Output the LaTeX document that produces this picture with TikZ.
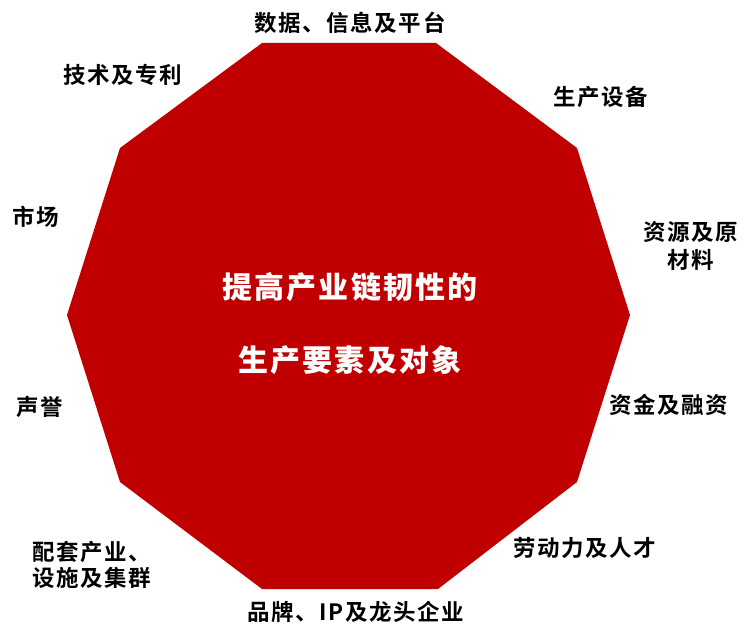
\documentclass[tikz,border=0pt]{standalone}
\usepackage{fontspec}
\setmainfont{Noto Sans CJK SC}
\newfontfamily\lblfont[BoldFont={* Bold},LetterSpace=7]{Noto Sans CJK SC}
\newfontfamily\ctrfont[LetterSpace=7]{Noto Sans CJK SC}
\definecolor{octred}{HTML}{C00000}
\tikzset{
  lbl/.style={inner sep=0pt, font=\lblfont\bfseries\fontsize{22.5}{28}\selectfont, text=black},
  ctr/.style={inner sep=0pt, font=\ctrfont\bfseries\fontsize{30}{36}\selectfont, text=white},
}
\begin{document}
\begin{tikzpicture}[x=1pt,y=-1pt]
\useasboundingbox (0,0) rectangle (748,626);
\fill[octred] (262,43) -- (436,43) -- (577,148) -- (630,315) -- (577,482) -- (438,589) -- (262,589) -- (120,482) -- (67,315) -- (120,148) -- cycle;
\node[ctr] (c1) at (350,287) {提高产业链韧性的};
\node[ctr] (c2) at (350,360) {生产要素及对象};
\node[lbl] (t1) at (350,23) {数据、信息及平台};
\node[lbl] (t2) at (601,97) {生产设备};
\node[lbl, align=center] (t3) at (691,246) {资源及原\\材料};
\node[lbl] (t4) at (669,405) {资金及融资};
\node[lbl] (t5) at (585,548) {劳动力及人才};
\node[lbl] (t6) at (356,612) {品牌、IP及龙头企业};
\node[lbl, align=left, anchor=west, font=\lblfont\bfseries\fontsize{22.5}{26}\selectfont] (t7) at (32,565) {配套产业、\\设施及集群};
\node[lbl] (t8) at (40,407) {声誉};
\node[lbl] (t9) at (36,217) {市场};
\node[lbl] (t10) at (123,75) {技术及专利};
\end{tikzpicture}
\end{document}
